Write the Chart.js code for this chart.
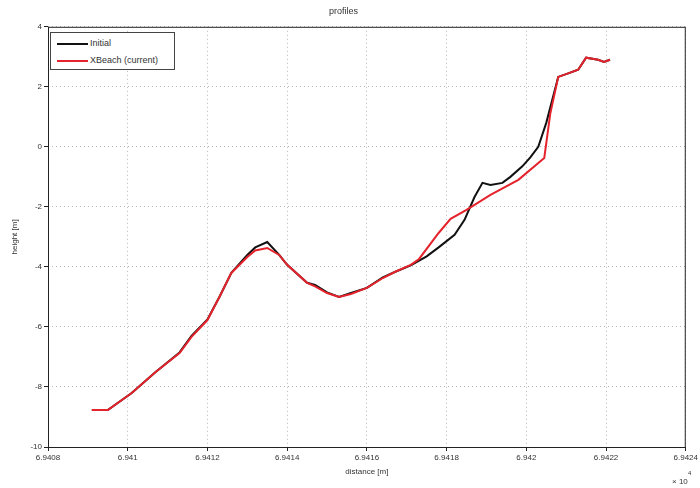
<!DOCTYPE html>
<html>
<head>
<meta charset="utf-8">
<title>profiles</title>
<script src="https://cdn.jsdelivr.net/npm/chart.js@4.4.1/dist/chart.umd.min.js"></script>
<style>
  html, body { margin: 0; padding: 0; background: #fff; }
  #wrap { position: relative; width: 700px; height: 488px; }
  #legend {
    position: absolute; left: 50px; top: 32px; width: 123px; height: 36px;
    border: 1px solid #444; background: #fff;
    font: 9px 'Liberation Sans', Arial, sans-serif; color: #333;
  }
  #legend .row { position: absolute; left: 6px; height: 10px; line-height: 10px; white-space: nowrap; }
  #legend .swatch { display: inline-block; width: 31px; height: 2px; vertical-align: middle; margin-right: 2px; }
</style>
</head>
<body>
<div id="wrap">
  <canvas id="profiles-chart" width="700" height="488"></canvas>
  <div id="legend"></div>
</div>
<script>
// profile data (distance in m, height in m)
var initialDistance = [69409.1, 69409.5, 69410.1, 69410.7, 69411.3, 69411.6, 69412.0, 69412.3, 69412.6, 69413.0,
  69413.2, 69413.5, 69413.8, 69414.0, 69414.5, 69414.7, 69415.0, 69415.3, 69415.6, 69416.0,
  69416.4, 69416.7, 69417.1, 69417.5, 69417.8, 69418.2, 69418.45, 69418.7, 69418.9, 69419.1,
  69419.4, 69419.6, 69419.9, 69420.1, 69420.3, 69420.5, 69420.8, 69421.05, 69421.3, 69421.5,
  69421.8, 69421.95, 69422.1];
var initialHeight = [-8.77, -8.77, -8.2, -7.5, -6.85, -6.3, -5.75, -5.0, -4.2, -3.6,
  -3.35, -3.17, -3.6, -3.93, -4.53, -4.6, -4.85, -5.0, -4.87, -4.7,
  -4.35, -4.17, -3.95, -3.65, -3.35, -2.93, -2.43, -1.67, -1.2, -1.27,
  -1.2, -1.0, -0.65, -0.35, 0.0, 0.8, 2.33, 2.45, 2.57, 2.97,
  2.9, 2.83, 2.9];

var xbeachDistance = [69409.1, 69409.5, 69410.1, 69410.7, 69411.3, 69411.6, 69412.0, 69412.3, 69412.6, 69413.0,
  69413.2, 69413.5, 69413.8, 69414.0, 69414.5, 69414.7, 69415.0, 69415.3, 69415.6, 69416.0,
  69416.4, 69416.7, 69417.1, 69417.3, 69417.8, 69418.1, 69418.5, 69419.1, 69419.8, 69420.45,
  69420.6, 69420.8, 69421.05, 69421.3, 69421.5, 69421.8, 69421.95, 69422.1];
var xbeachHeight = [-8.77, -8.77, -8.2, -7.5, -6.87, -6.33, -5.77, -5.0, -4.2, -3.67,
  -3.45, -3.37, -3.6, -3.93, -4.53, -4.65, -4.87, -5.0, -4.9, -4.7,
  -4.37, -4.17, -3.93, -3.75, -2.87, -2.4, -2.1, -1.6, -1.1, -0.37,
  1.1, 2.33, 2.45, 2.57, 2.97, 2.9, 2.83, 2.9];

var seriesLabels = ['Initial', 'XBeach (current)'];
var seriesColors = ['#111111', '#e4232c'];
var xTicks = [69408, 69410, 69412, 69414, 69416, 69418, 69420, 69422, 69424];
var yTicks = [-10, -8, -6, -4, -2, 0, 2, 4];

function toPoints(xs, ys) {
  var pts = [];
  for (var i = 0; i < xs.length; i++) pts.push({ x: xs[i], y: ys[i] });
  return pts;
}

var FONT = "'Liberation Sans', Arial, sans-serif";

// box round the axes and the x10^4 exponent
var matlabFrame = {
  id: 'matlabFrame',
  afterDraw: function (chart) {
    var ctx = chart.ctx, a = chart.chartArea;
    ctx.save();
    ctx.strokeStyle = '#222';
    ctx.lineWidth = 1;
    ctx.strokeRect(a.left + 0.5, a.top + 0.5, a.right - a.left - 1, a.bottom - a.top);

    ctx.fillStyle = '#333';
    ctx.font = '8px ' + FONT;
    ctx.textBaseline = 'alphabetic';
    ctx.fillText('\u00d7 10', 672, 484);
    ctx.font = '6px ' + FONT;
    ctx.fillText('4', 688, 475);
    ctx.restore();
  }
};

var ctx = document.getElementById('profiles-chart').getContext('2d');
var chart = new Chart(ctx, {
  type: 'line',
  data: {
    datasets: [{
      label: seriesLabels[0],
      data: toPoints(initialDistance, initialHeight),
      borderColor: seriesColors[0],
      borderWidth: 2,
      pointRadius: 0,
      tension: 0,
      order: 2
    }, {
      label: seriesLabels[1],
      data: toPoints(xbeachDistance, xbeachHeight),
      borderColor: seriesColors[1],
      borderWidth: 2,
      pointRadius: 0,
      tension: 0,
      order: 1
    }]
  },
  options: {
    responsive: false,
    animation: false,
    layout: { padding: { left: 0, right: 13, top: 0, bottom: 0 } },
    plugins: {
      title: {
        display: true,
        text: 'profiles',
        color: '#333',
        font: { family: FONT, size: 9, weight: 'normal' },
        padding: { top: 6, bottom: 10 }
      },
      legend: { display: false },
      tooltip: { enabled: false }
    },
    scales: {
      x: {
        type: 'linear',
        min: xTicks[0],
        max: xTicks[xTicks.length - 1],
        afterBuildTicks: function (scale) {
          scale.ticks = xTicks.map(function (v) { return { value: v }; });
        },
        afterFit: function (scale) { scale.height = 41; },
        ticks: {
          color: '#333',
          font: { family: FONT, size: 8 },
          maxRotation: 0,
          padding: 2,
          callback: function (v) { return parseFloat((v / 1e4).toFixed(4)).toString(); }
        },
        grid: { color: '#b8b8b8', tickColor: '#222', tickLength: 4 },
        border: { display: false, dash: [1, 3] },
        title: {
          display: true,
          text: 'distance [m]',
          color: '#333',
          font: { family: FONT, size: 8 },
          padding: { top: 2, bottom: 11 }
        }
      },
      y: {
        type: 'linear',
        min: yTicks[0],
        max: yTicks[yTicks.length - 1],
        afterBuildTicks: function (scale) {
          scale.ticks = yTicks.map(function (v) { return { value: v }; });
        },
        afterFit: function (scale) { scale.width = 48; },
        ticks: {
          color: '#333',
          font: { family: FONT, size: 8 },
          padding: 2
        },
        grid: { color: '#b8b8b8', tickColor: '#222', tickLength: 4 },
        border: { display: false, dash: [1, 3] },
        title: {
          display: true,
          text: 'height [m]',
          color: '#333',
          font: { family: FONT, size: 8 },
          padding: { top: 10, bottom: 0 }
        }
      }
    }
  },
  plugins: [matlabFrame]
});

// legend box inside the axes, top left
var legendEl = document.getElementById('legend');
chart.data.datasets.forEach(function (ds, i) {
  var row = document.createElement('div');
  row.className = 'row';
  row.style.top = (5 + i * 17) + 'px';
  row.innerHTML = '<span class="swatch" style="background:' + ds.borderColor + '"></span>' + ds.label;
  legendEl.appendChild(row);
});
</script>
</body>
</html>
